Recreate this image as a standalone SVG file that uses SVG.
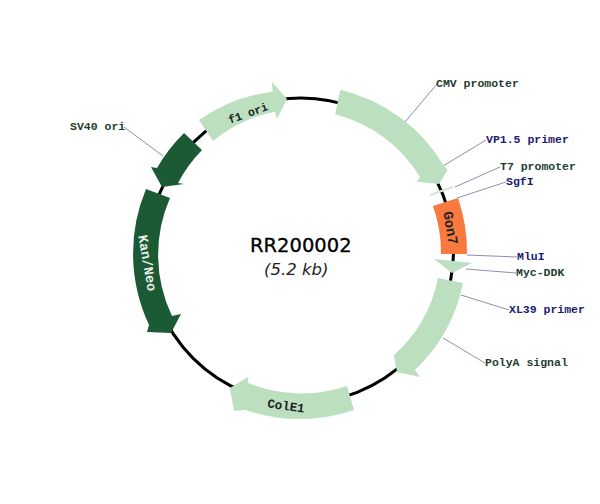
<svg xmlns="http://www.w3.org/2000/svg" width="600" height="504" viewBox="0 0 600 504">
<style>
.lbl{font-family:"Liberation Mono",monospace;font-weight:bold;font-size:11.5px}
.f{fill:#1f3d30}.p{fill:#1b1b72}
.lead{stroke:#8e8eb4;stroke-width:1;fill:none}
.light{fill:#bbdfbf}.dark{fill:#1b5a34}
.inner{font-family:"Liberation Mono",monospace;font-weight:bold;text-anchor:middle}
</style>
<rect width="600" height="504" fill="#fff"/>
<g id="connectors">
<circle cx="301" cy="250.500" r="152.500" fill="none" stroke="#000" stroke-width="3"/>
<path class="lead" d="M405 122L437 84"/>
<path class="lead" d="M443 166L486 140"/>
<path class="lead" d="M455 187L500 167"/>
<path class="lead" d="M457 198L506 182"/>
<path class="lead" d="M467 255L517 257"/>
<path class="lead" d="M466 269L516 273"/>
<path class="lead" d="M461 295L509 310"/>
<path class="lead" d="M443 338L485 363"/>
<path class="lead" d="M124 127L163 156"/>
</g>
<g id="cmv"><path class="light" d="M340.300 89.700A165 165 0 0 1 444 166L447.700 170L439 184L416.700 181.700L420 177A140 140 0 0 0 335.200 114.200Z"/><text class="lbl f" x="436" y="87">CMV promoter</text></g>
<g id="vp15"><text class="lbl p" x="486" y="143">VP1.5 primer</text></g>
<g id="t7"><path d="M430 195L453 187" stroke="#d5e8d5" stroke-width="2" fill="none"/><text class="lbl f" x="500" y="170">T7 promoter</text></g>
<g id="sgfi"><text class="lbl p" x="506" y="185">SgfI</text></g>
<g id="gon7"><path d="M433 206L458 198A165 165 0 0 1 467 254L441 254A140 140 0 0 0 433 206Z" fill="#f9793f"/><text class="inner" font-size="14" fill="#222" transform="translate(450 228) rotate(80)" y="4">Gon7</text></g>
<g id="mlui"><text class="lbl p" x="517" y="260">MluI</text></g>
<g id="myc"><path class="light" d="M434 259L472 263L452 273Z"/><text class="lbl f" x="516" y="276">Myc-DDK</text></g>
<g id="xl39"><text class="lbl p" x="509" y="313">XL39 primer</text></g>
<g id="polya"><path class="light" d="M438 278L463 283A165 165 0 0 1 415 370L420 377L397 372L392.700 349.300L394 355A140 140 0 0 0 438 278Z"/><text class="lbl f" x="485" y="366">PolyA signal</text></g>
<g id="cole1"><path class="light" d="M347 386L354 410A168 168 0 0 1 245 410L234 411L230 388L248 377L248 383A143 143 0 0 0 347 386Z"/><text class="inner" font-size="12.500" fill="#222" transform="translate(286 406) rotate(8)" y="4">ColE1</text></g>
<g id="kan"><path class="dark" d="M146 189L170 198A142 142 0 0 0 172 316L181 314L171 333L147 332L149 325A168 168 0 0 1 146 189Z"/><text class="inner" font-size="13.500" fill="#e8f0e8" transform="translate(147 263) rotate(80)" y="4">Kan/Neo</text></g>
<g id="sv40"><path class="dark" d="M184 133L202 150A141 141 0 0 0 178 183L184 184L162 187L151 167L157 168A166 166 0 0 1 184 133Z"/><text class="lbl f" x="70" y="130">SV40 ori</text></g>
<g id="f1"><path class="light" d="M199 120A162 162 0 0 1 272.700 91.700L272 82L287 99L277 119L275 111.700A140 140 0 0 0 213 141Z"/><text class="inner" font-size="11.500" fill="#222" transform="translate(248 113) rotate(-20)" y="4">f1 ori</text></g>
<g id="title">
<text x="250" y="252" font-family="DejaVu Sans,sans-serif" font-size="19.500px" stroke="#000" stroke-width="0.300" fill="#000">RR200002</text>
<text x="264" y="275" font-family="DejaVu Sans,sans-serif" font-size="16.500px" font-style="italic" fill="#222">(5.2 kb)</text>
</g>
</svg>
